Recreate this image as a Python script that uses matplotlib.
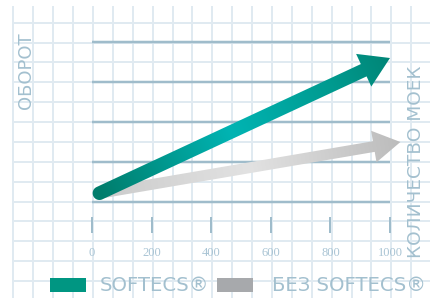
import numpy as np
import matplotlib
matplotlib.use("Agg")
import matplotlib.pyplot as plt
from matplotlib.patches import Polygon, Rectangle
from matplotlib.colors import LinearSegmentedColormap

# ---- data ----
series_names = ["SOFTECS®", "БЕЗ SOFTECS®"]
start_x = [25, 20]
start_y = [0.22, 0.21]
end_x = [1000, 1035]
end_y = [3.6, 1.5]
x_ticks = [0, 200, 400, 600, 800, 1000]
x_tick_labels = ["0", "200", "400", "600", "800", "1000"]
turnover_levels = [0, 1, 2, 3, 4]
y_label = "ОБОРОТ"
x_label = "КОЛИЧЕСТВО МОЕК"

# ---- style ----
W, H = 431, 298
DPI = 100
PX = 72.0 / DPI  # points per pixel
label_col = "#a3c0cf"
tick_col = "#a9c4d4"
dark_line = "#9fbccb"
light_grid = "#e0eaf1"
legend_cols = ["#009682", "#a7a9ac"]
grad_stops = [
    [(0.0, "#007d6c"), (0.45, "#00b4b3"), (0.8, "#009a8f"), (1.0, "#008576")],
    [(0.0, "#cbcbcb"), (0.5, "#e2e2e2"), (1.0, "#bcbcbc")],
]
shaft_w = [13.6, 10.8]
head_w = [36, 32]
head_l = [29, 27]
round_start = [True, False]

fig = plt.figure(figsize=(W / DPI, H / DPI), dpi=DPI)

# background grid paper (pixel coordinates)
bg = fig.add_axes([0, 0, 1, 1])
bg.set_xlim(0, W)
bg.set_ylim(H, 0)
bg.axis("off")
gx = 13.3
while gx < W:
    bg.plot([gx, gx], [6, H], color=light_grid, lw=2 * PX, zorder=1, solid_capstyle="butt")
    gx += 19.9
gy = 22.7
while gy < H:
    bg.plot([13, W], [gy, gy], color=light_grid, lw=2 * PX, zorder=1, solid_capstyle="butt")
    gy += 19.87

# data axes: 0..1000 -> px 92..390, 0..4 -> px 202..42
ax = fig.add_axes([0, 0, 1, 1])
ax.patch.set_alpha(0)
ax.axis("off")
sx = 298 / 1000.0
xlim = ((0 - 92) / sx, (W - 92) / sx)
ylim = ((202 - H) / 40.0, (202 - 0) / 40.0)
ax.set_xlim(*xlim)
ax.set_ylim(*ylim)

ax.hlines(turnover_levels, 0, 1000, color=dark_line, lw=2.5 * PX, zorder=2)
ax.vlines(x_ticks, -0.375, -0.775, color=dark_line, lw=2 * PX, zorder=2)
for xt, lab in zip(x_ticks, x_tick_labels):
    ax.text(xt, -1.275, lab, ha="center", va="center", fontsize=9,
            family="Liberation Serif", color=tick_col)


def draw_arrow(i, zorder):
    p0 = ax.transData.transform((start_x[i], start_y[i]))
    p1 = ax.transData.transform((end_x[i], end_y[i]))
    d = p1 - p0
    L = np.hypot(*d)
    u = d / L
    n = np.array([-u[1], u[0]])
    hw = shaft_w[i] / 2
    hh = head_w[i] / 2
    base = p1 - u * head_l[i]
    pts = []
    if round_start[i]:
        for th in np.linspace(0, np.pi, 30):
            pts.append(p0 + hw * (np.cos(th) * n - np.sin(th) * u))
    else:
        pts += [p0 + n * hw, p0 - n * hw]
    pts += [base - n * hw, base - n * hh, p1, base + n * hh, base + n * hw]
    pts = np.array(pts)
    verts = ax.transData.inverted().transform(pts)
    poly = Polygon(verts, closed=True, facecolor="none", edgecolor="none",
                   transform=ax.transData)
    ax.add_patch(poly)
    xmin, ymin = pts.min(axis=0) - 2
    xmax, ymax = pts.max(axis=0) + 2
    nx, ny = int(xmax - xmin) * 2, int(ymax - ymin) * 2
    XX, YY = np.meshgrid(np.linspace(xmin, xmax, nx), np.linspace(ymin, ymax, ny))
    t = ((XX - p0[0]) * u[0] + (YY - p0[1]) * u[1]) / L
    t = np.clip(t, 0, 1)
    cmap = LinearSegmentedColormap.from_list("g%d" % i, grad_stops[i])
    img = cmap(t)
    (dx0, dy0) = ax.transData.inverted().transform((xmin, ymin))
    (dx1, dy1) = ax.transData.inverted().transform((xmax, ymax))
    im = ax.imshow(img, extent=(dx0, dx1, dy0, dy1), origin="lower",
                   aspect="auto", interpolation="bilinear", zorder=zorder)
    im.set_clip_path(poly)


draw_arrow(1, 3)
draw_arrow(0, 4)
ax.set_xlim(*xlim)
ax.set_ylim(*ylim)

# axis titles
bg.text(26.5, 71, y_label, rotation=90, ha="center", va="center",
        fontsize=13, color=label_col, family="DejaVu Sans")
bg.text(416.5, 161.5, x_label, rotation=90, ha="center", va="center",
        fontsize=13.3, color=label_col, family="DejaVu Sans")

# legend
leg_x = [50, 217]
txt_x = [100, 272]
for i in range(2):
    bg.add_patch(Rectangle((leg_x[i], 278), 36, 14, facecolor=legend_cols[i],
                           edgecolor="none", zorder=5))
    bg.text(txt_x[i], 285.5, series_names[i], ha="left", va="center",
            fontsize=14.2, color=label_col, family="DejaVu Sans", zorder=5)

fig.savefig("out.png", dpi=DPI)
